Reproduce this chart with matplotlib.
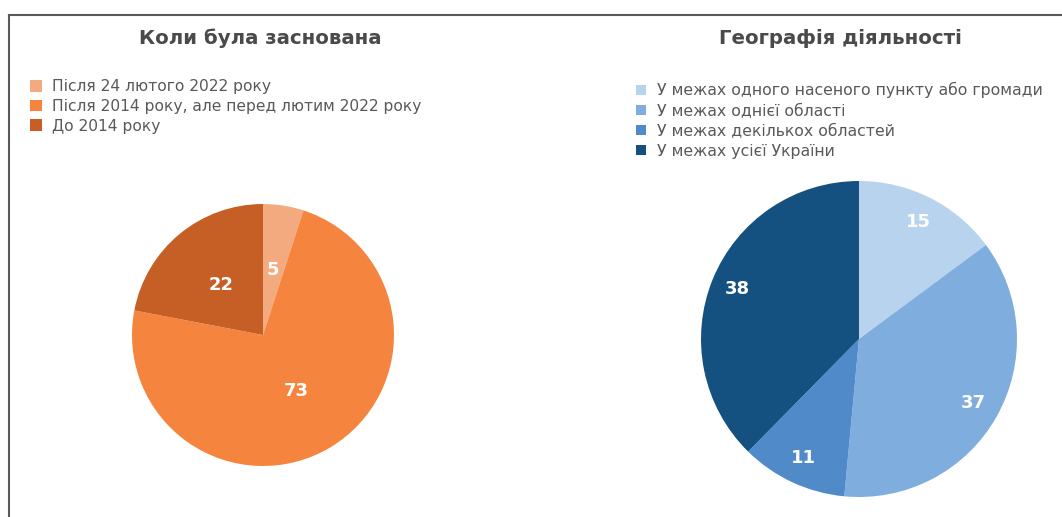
import matplotlib.pyplot as plt
from matplotlib.lines import Line2D
import numpy as np

plt.rcParams['font.family'] = ['DejaVu Sans']

# data
founded_labels = ["Після 24 лютого 2022 року",
                  "Після 2014 року, але перед лютим 2022 року",
                  "До 2014 року"]
founded_values = [5, 73, 22]
founded_colors = ["#F4AA7F", "#F5853E", "#C55F25"]

geo_labels = ["У межах одного насеного пункту або громади",
              "У межах однієї області",
              "У межах декількох областей",
              "У межах усієї України"]
geo_values = [15, 37, 11, 38]
geo_colors = ["#B8D3EE", "#7FADDD", "#508AC9", "#155180"]

W, H = 1062, 517
fig = plt.figure(figsize=(W / 100, H / 100), dpi=100)
fig.patch.set_facecolor("white")


def pie_axes(cx, cy, r):
    ax = fig.add_axes([(cx - r) / W, (H - cy - r) / H, 2 * r / W, 2 * r / H])
    return ax


def draw_pie(ax, values, colors, ldist):
    wedges, texts = ax.pie(values, colors=colors, startangle=90, counterclock=False,
                           labels=[str(v) for v in values], labeldistance=ldist,
                           textprops=dict(color="white", fontsize=13, fontweight="bold",
                                          ha="center", va="center"))
    for t in texts:
        t.set_ha("center")
    ax.set_xlim(-1, 1)
    ax.set_ylim(-1, 1)
    ax.set_aspect("equal")
    ax.axis("off")
    return wedges


ax1 = pie_axes(263, 335, 131)
w1 = draw_pie(ax1, founded_values, founded_colors, 0.5)

ax2 = pie_axes(859, 339, 158)
w2 = draw_pie(ax2, geo_values, geo_colors, 0.83)

# titles
fig.text(260 / W, 1 - 38 / H, "Коли була заснована", ha="center", va="center",
         fontsize=14.2, fontweight="bold", color="#4A4A4A")
fig.text(840 / W, 1 - 38 / H, "Географія діяльності", ha="center", va="center",
         fontsize=14.2, fontweight="bold", color="#4A4A4A")

# legends
fig.legend(w1, founded_labels, loc="upper left", bbox_to_anchor=(24 / W, 1 - 73 / H),
           frameon=False, fontsize=11.2, handlelength=0.75, handleheight=0.75,
           handletextpad=0.65, labelspacing=0.3, labelcolor="#595959", borderaxespad=0)
fig.legend(w2, geo_labels, loc="upper left", bbox_to_anchor=(630 / W, 1 - 76 / H),
           frameon=False, fontsize=11.3, handlelength=0.6, handleheight=0.6,
           handletextpad=0.75, labelspacing=0.32, labelcolor="#595959", borderaxespad=0)

# border
fig.add_artist(Line2D([8.5 / W, 8.5 / W], [0, 1 - 14.5 / H], color="#5A5A5A", lw=1.5,
                      transform=fig.transFigure))
fig.add_artist(Line2D([8.5 / W, 1], [1 - 14.5 / H, 1 - 14.5 / H], color="#5A5A5A", lw=1.5,
                      transform=fig.transFigure))

fig.savefig("out.png", dpi=100, facecolor="white")
